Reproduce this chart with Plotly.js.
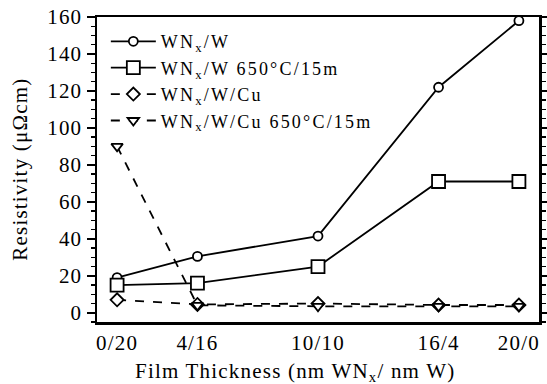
<!DOCTYPE html>
<html><head><meta charset="utf-8">
<script src="https://cdn.plot.ly/plotly-3.0.1.min.js"></script>
<style>body{margin:0;background:#fff}#c{width:547px;height:384px}
svg text{letter-spacing:1.2px}
svg text.legendtext{letter-spacing:2.2px}</style>
</head><body><div id="c"></div>
<script>
const xPos = [0, 4, 10, 16, 20];
const xLabels = ['0/20', '4/16', '10/10', '16/4', '20/0'];
const wnW = [19, 30.5, 41.5, 122, 158];
const wnWAnneal = [15, 16, 25, 71, 71];
const wnWCu = [7, 4.5, 5, 4.2, 4.2];
const wnWCuAnneal = [90, 4, 3.5, 3.5, 3.5];
const names = ['WN<sub>x</sub>/W', 'WN<sub>x</sub>/W 650°C/15m', 'WN<sub>x</sub>/W/Cu', 'WN<sub>x</sub>/W/Cu 650°C/15m'];
const xTitle = 'Film Thickness (nm WN<sub>x</sub>/ nm W)';
const yTitle = 'Resistivity (μΩcm)';

function F(s) { return {family: 'Liberation Serif', size: s || 21, color: '#000'}; }
function tr(y, name, sym, size, dash) {
  return {x: xPos, y: y, name: name, type: 'scatter', mode: 'lines+markers',
    line: {color: '#000', width: 1.8, dash: dash},
    marker: {symbol: sym, size: size, color: '#fff', line: {color: '#000', width: 1.8}}};
}
const data = [
  tr(wnW, names[0], 'circle', 9, 'solid'),
  tr(wnWAnneal, names[1], 'square', 13, 'solid'),
  tr(wnWCu, names[2], 'diamond', 10, 'dash'),
  tr(wnWCuAnneal, names[3], 'triangle-down', 10, 'dash')
];
const layout = {
  width: 547, height: 384,
  margin: {l: 97, r: 8, t: 17, b: 62},
  paper_bgcolor: '#fff', plot_bgcolor: '#fff',
  font: F(21),
  showlegend: true,
  legend: {x: 0.02, y: 0.98, xanchor: 'left', yanchor: 'top', bgcolor: 'rgba(0,0,0,0)',
    font: F(18), tracegroupgap: 0, itemwidth: 45},
  xaxis: {range: [-1, 21], tickmode: 'array', tickvals: xPos, ticktext: xLabels,
    showgrid: false, zeroline: false, showline: true, linewidth: 2.5, linecolor: '#000', mirror: true,
    ticks: '', tickfont: F(21)},
  yaxis: {range: [-5, 160], dtick: 20, tick0: 0, showgrid: false, zeroline: false,
    showline: true, linewidth: 2.5, linecolor: '#000', mirror: 'allticks',
    ticks: 'outside', ticklen: 8, tickwidth: 1.8, tickcolor: '#000', tickfont: F(21),
    minor: {dtick: 5, ticks: 'outside', ticklen: 4, tickwidth: 1.4, tickcolor: '#000', showgrid: false}},
  annotations: [
    {text: xTitle, xref: 'paper', yref: 'paper', x: 0.448, y: -0.163, xanchor: 'center', yanchor: 'middle',
      showarrow: false, font: F(21)},
    {text: yTitle, xref: 'paper', yref: 'paper', x: -0.176, y: 0.5, xanchor: 'center', yanchor: 'middle',
      textangle: -90, showarrow: false, font: F(21)}
  ]
};
Plotly.newPlot('c', data, layout, {displayModeBar: false, staticPlot: true});
</script></body></html>
